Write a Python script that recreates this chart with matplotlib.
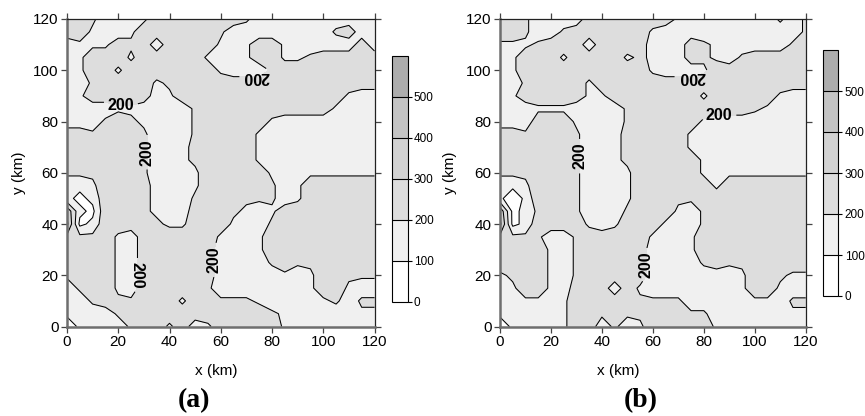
import numpy as np
import matplotlib
matplotlib.use("Agg")
import matplotlib.pyplot as plt

plt.rcParams['font.family'] = ['Liberation Sans', 'DejaVu Sans']

# grid nodes in km (5 km spacing)
x_km = [0, 5, 10, 15, 20, 25, 30, 35, 40, 45, 50, 55, 60,
        65, 70, 75, 80, 85, 90, 95, 100, 105, 110, 115, 120]
y_km = [0, 5, 10, 15, 20, 25, 30, 35, 40, 45, 50, 55, 60,
        65, 70, 75, 80, 85, 90, 95, 100, 105, 110, 115, 120]

fill_levels = [0, 100, 200, 300, 400, 500, 600]
fill_colors = ['#ffffff', '#f0f0f0', '#dddddd', '#d2d2d2', '#c4c4c4', '#adadad']
line_levels = [100, 300, 400, 500]
label_level = [200]
cbar_ticks = [0, 100, 200, 300, 400, 500]
axis_ticks = [0, 20, 40, 60, 80, 100, 120]

# one digit per grid node, value = 25 + 50 * digit
# first row is y = 120 km, last row is y = 0
field_a = [
    "5542223555555542222222222",
    "5532235555554222222224522",
    "2333545255553235532222252",
    "2355535555532235533455555",
    "2355355555553222455555555",
    "2245555345555555555555555",
    "2355555235555555555555322",
    "2222332222455555555553222",
    "2224543222455555322222222",
    "5545554222455553222222222",
    "5555554223455553222222222",
    "5555554223455553222222222",
    "4445554222355555322333333",
    "2235554322355555423555555",
    "2125554322455544423555555",
    "7215554323455432355555555",
    "8125555433555322455555555",
    "5445325555553223555555555",
    "5555325555552223555555555",
    "5555325555552222454455555",
    "4555325555552222232355444",
    "2455325555542222222355322",
    "2245445553554443222234244",
    "2222455555555555432222233",
    "0222245535235555532222222",
]

field_b = [
    "5542222555555532222222424",
    "5542245555553222222222224",
    "3334555255552225432222245",
    "2355535555343225432455555",
    "2355555555553222355555555",
    "2245555355555555555555555",
    "2355555335555555355555322",
    "2223332222455555555543222",
    "2225553222455555322222222",
    "5545554223455553222222222",
    "5555554223455553222222222",
    "5555554223455555322222222",
    "4445554222355555323333333",
    "2235554222355555535555555",
    "2025554222355544455555555",
    "7124554222455532455555555",
    "8125555323555322455555555",
    "5444224555553223555555555",
    "5555324555552223555555555",
    "5555324555552222454455555",
    "3455324555552222222355433",
    "2355325552532222222355322",
    "2233335555544442222233244",
    "2222235545445554422222233",
    "0222235524235555532222222",
]

# where the 200 labels sit, and which way they read
label_pos_a = [(21, 86.3), (31.3, 68), (27.5, 20), (57.5, 26), (74, 97.5)]
label_rot_a = [0, 90, -90, 90, 180]
label_pos_b = [(31.3, 66.5), (75.3, 97.5), (86, 82.5), (57.5, 24)]
label_rot_b = [90, 180, 0, 90]

W, H = 865, 416


def to_grid(rows):
    digits = np.array([[int(c) for c in r] for r in rows[::-1]], dtype=float)
    return 25.0 + 50.0 * digits


def px_rect(left, top, right, bottom):
    return [left / W, 1 - bottom / H, (right - left) / W, (bottom - top) / H]


def draw_panel(fig, ax_box, cb_box, rows, label_pos, label_rot):
    ax = fig.add_axes(px_rect(*ax_box))
    z = to_grid(rows)
    cf = ax.contourf(x_km, y_km, z, levels=fill_levels, colors=fill_colors)
    ax.contour(x_km, y_km, z, levels=line_levels, colors='k', linewidths=0.75)
    cs = ax.contour(x_km, y_km, z, levels=label_level, colors='k', linewidths=0.75)
    texts = ax.clabel(cs, manual=label_pos, inline=True,
                      fmt='%d', fontsize=11.5, inline_spacing=4)
    for t, r in zip(texts, label_rot):
        t.set_rotation(r)
        t.set_fontweight('bold')

    ax.set_xlim(0, 120)
    ax.set_ylim(0, 120)
    ax.set_xticks(axis_ticks)
    ax.set_yticks(axis_ticks)
    for side in ['left', 'bottom']:
        ax.spines[side].set_color('#6e6e6e')
        ax.spines[side].set_linewidth(1.8)
    for side in ['top', 'right']:
        ax.spines[side].set_color('#222222')
        ax.spines[side].set_linewidth(0.9)
    ax.tick_params(direction='out', length=4, width=0.9, color='#444444',
                   labelsize=11, pad=2, top=True, right=True)

    cax = fig.add_axes(px_rect(*cb_box))
    cb = fig.colorbar(cf, cax=cax, ticks=cbar_ticks)
    for lv in [100, 200, 300, 400, 500]:
        cax.axhline(lv, color='k', lw=0.8)
    cb.outline.set_linewidth(0.8)
    cax.tick_params(length=3, width=0.8, labelsize=8.5, pad=1.5)
    return ax


fig = plt.figure(figsize=(W / 100, H / 100), dpi=100)

draw_panel(fig, (67, 19, 374.5, 326.5), (392.3, 55.7, 407.7, 301.7),
           field_a, label_pos_a, label_rot_a)
draw_panel(fig, (500, 19, 805.7, 326.7), (822.7, 50, 838.3, 296),
           field_b, label_pos_b, label_rot_b)

fig.text(19 / W, 1 - 173 / H, 'y (km)', rotation=90, ha='center', va='center', fontsize=11)
fig.text(450 / W, 1 - 173 / H, 'y (km)', rotation=90, ha='center', va='center', fontsize=11)
fig.text(216 / W, 1 - 371 / H, 'x (km)', ha='center', va='center', fontsize=11)
fig.text(618 / W, 1 - 371 / H, 'x (km)', ha='center', va='center', fontsize=11)
fig.text(194 / W, 1 - 401 / H, '(a)', family=['Liberation Serif', 'DejaVu Serif'],
         weight='bold', fontsize=20, ha='center', va='center')
fig.text(641 / W, 1 - 401 / H, '(b)', family=['Liberation Serif', 'DejaVu Serif'],
         weight='bold', fontsize=20, ha='center', va='center')

fig.savefig('out.png', dpi=100)
